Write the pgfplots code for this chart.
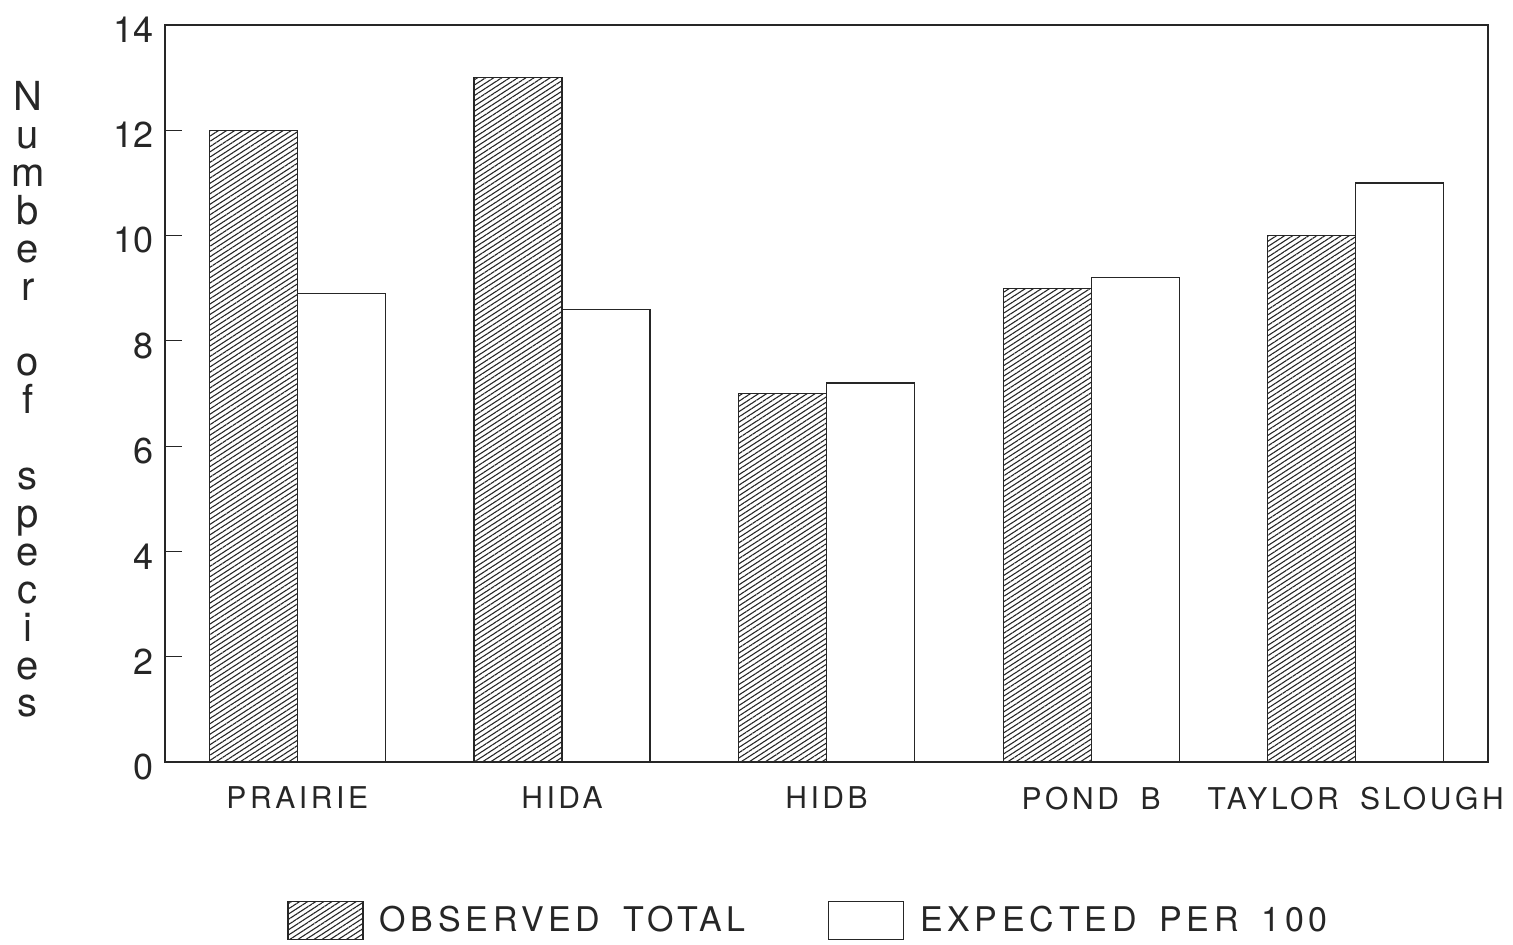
\documentclass[border=0pt]{standalone}
\usepackage{fontspec}
\setmainfont{TeX Gyre Heros}
\newfontfamily\sitefont[LetterSpace=12,WordSpace=1.8]{TeX Gyre Heros}
\newfontfamily\keyfont[LetterSpace=14,WordSpace=1.6]{TeX Gyre Heros}
\usepackage{pgfplots}
\usepackage{pgfplotstable}
\pgfplotsset{compat=1.18}
\usetikzlibrary{patterns.meta}

% Number of species per site: observed total and expected per 100 individuals
\pgfplotstableread{
idx obs exp
0 12 8.9
1 13 8.6
2 7  7.2
3 9  9.2
4 10 11
}\speciestable

\colorlet{ink}{black!85}

\begin{document}
\begin{tikzpicture}
\useasboundingbox (-82.5pt,-91pt) rectangle (674pt,381pt);
\begin{axis}[
  at={(0,0)}, anchor=south west,
  scale only axis, width=661.5pt, height=368.5pt,
  xmin=-0.5, xmax=4.5, ymin=0, ymax=14,
  ybar=0pt, bar width=44pt,
  xtick=data,
  xticklabels={PRAIRIE,HIDA,HIDB,POND B,TAYLOR SLOUGH},
  ytick={0,2,...,14},
  tick pos=left, tick align=inside, major tick length=8.5pt,
  xtick style={draw=none},
  ytick style={ink, line width=0.6pt},
  axis line style={ink, line width=0.6pt},
  /pgf/number format/assume math mode=true,
  yticklabel style={font=\fontsize{18}{20}\selectfont, text=ink, xshift=-2pt, yshift=-2.4pt},
  xticklabel style={font=\sitefont\fontsize{15}{17}\selectfont, text=ink, yshift=-9pt},
  ylabel={N\\u\\m\\b\\e\\r\\\mbox{}\\o\\f\\\mbox{}\\s\\p\\e\\c\\i\\e\\s},
  ylabel style={at={(axis description cs:0,0.5)}, anchor=center, rotate=-90,
    align=center, xshift=-68.5pt, yshift=-3pt, text=ink,
    font=\fontsize{20}{18.95}\selectfont},
  legend columns=2,
  legend image code/.code={\draw[#1] (0pt,-9.5pt) rectangle (37.5pt,9.5pt);},
  legend style={at={(axis description cs:0.0922,-0.215)}, anchor=west, draw=none,
    inner sep=0pt, text=ink,
    font=\keyfont\fontsize{17}{19}\selectfont,
    /tikz/every even column/.append style={column sep=39pt},
    /tikz/every odd column/.append style={column sep=6pt}},
  legend cell align=left,
]
\addplot[draw=ink, line width=0.6pt,
  pattern={Lines[angle=33,distance=2.2pt,line width=0.55pt]}, pattern color=ink]
  table[x=idx, y=obs] {\speciestable};
\addlegendentry{OBSERVED TOTAL}
\addplot[draw=ink, line width=0.6pt, fill=white]
  table[x=idx, y=exp] {\speciestable};
\addlegendentry{EXPECTED PER 100}
\end{axis}
\end{tikzpicture}
\end{document}
